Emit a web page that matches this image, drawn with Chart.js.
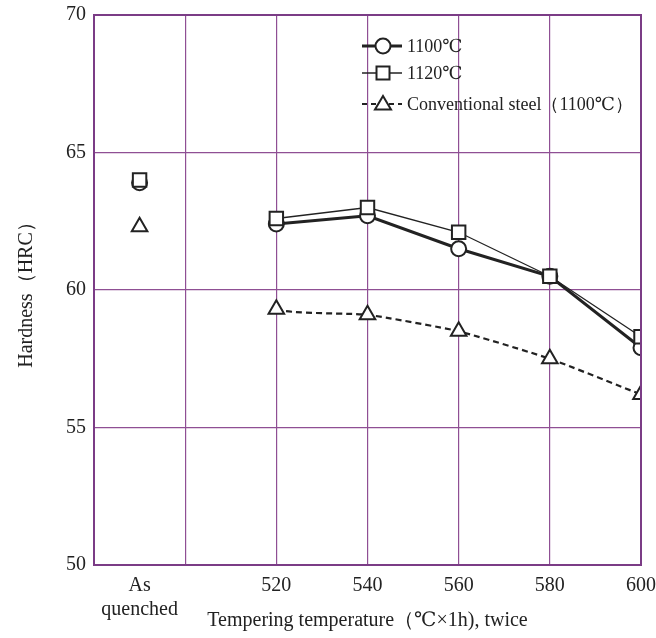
<!DOCTYPE html>
<html>
<head>
<meta charset="utf-8">
<script src="https://cdn.jsdelivr.net/npm/chart.js@4/dist/chart.umd.min.js"></script>
<style>
  html, body { margin: 0; padding: 0; background: #fff; }
  #wrap { width: 656px; height: 638px; }
</style>
</head>
<body>
<div id="wrap"><canvas id="hardnessChart" width="656" height="638"></canvas></div>
<script>
// x = 490 stands for "As quenched"
const temps = [490, 520, 540, 560, 580, 600];
const hrc1100 = [63.9, 62.4, 62.7, 61.5, 60.5, 57.9];
const hrc1120 = [64.0, 62.6, 63.0, 62.1, 60.5, 58.3];
const hrcConv = [62.3, 59.3, 59.1, 58.5, 57.5, 56.2];
const xTicks = [490, 500, 520, 540, 560, 580, 600];
const legendLabels = ['1100℃', '1120℃', 'Conventional steel（1100℃）'];

const serif = '"Liberation Serif", "DejaVu Serif", serif';
const gridColor = '#8f4f94';
const ink = '#222';

const pts = (vals) => temps.map((t, i) => ({ x: t, y: vals[i] }));
// no line between "As quenched" and 520
const skipFirst = { borderColor: (c) => c.p0DataIndex === 0 ? 'rgba(0,0,0,0)' : undefined };

const frame = {
  id: 'frame',
  afterDraw(chart) {
    const { ctx, chartArea: a } = chart;
    ctx.save();
    ctx.strokeStyle = '#7b3c86';
    ctx.lineWidth = 2;
    ctx.strokeRect(a.left, a.top, a.right - a.left, a.bottom - a.top);
    ctx.restore();
  }
};

// legend drawn inside plot, upper right
const boxLegend = {
  id: 'boxLegend',
  afterDraw(chart) {
    const { ctx, chartArea: a } = chart;
    const x0 = a.left + 268, x1 = a.left + 308, mx = a.left + 289;
    const rows = [a.top + 31, a.top + 58, a.top + 89];
    ctx.save();
    ctx.fillStyle = ink;
    ctx.strokeStyle = ink;
    ctx.font = '18px ' + serif;
    ctx.textBaseline = 'middle';
    rows.forEach((y, i) => {
      ctx.lineWidth = i === 0 ? 3 : (i === 1 ? 1.5 : 2);
      ctx.setLineDash(i === 2 ? [5, 4] : []);
      ctx.beginPath();
      ctx.moveTo(x0, y);
      ctx.lineTo(x1, y);
      ctx.stroke();
      ctx.setLineDash([]);
      ctx.lineWidth = 2;
      ctx.fillStyle = '#fff';
      ctx.beginPath();
      if (i === 0) {
        ctx.arc(mx, y, 7.5, 0, Math.PI * 2);
      } else if (i === 1) {
        ctx.rect(mx - 6.5, y - 6.5, 13, 13);
      } else {
        ctx.moveTo(mx, y - 8);
        ctx.lineTo(mx + 8, y + 5.5);
        ctx.lineTo(mx - 8, y + 5.5);
        ctx.closePath();
      }
      ctx.fill();
      ctx.stroke();
      ctx.fillStyle = ink;
      ctx.fillText(legendLabels[i], x1 + 5, y + 1);
    });
    ctx.restore();
  }
};

new Chart(document.getElementById('hardnessChart'), {
  type: 'scatter',
  data: {
    datasets: [
      {
        label: legendLabels[1],
        data: pts(hrc1120),
        showLine: true,
        borderColor: ink,
        borderWidth: 1.3,
        pointStyle: 'rect',
        pointRadius: 9.5,
        pointBackgroundColor: '#fff',
        pointBorderColor: ink,
        pointBorderWidth: 2,
        segment: skipFirst,
        order: 0
      },
      {
        label: legendLabels[0],
        data: pts(hrc1100),
        showLine: true,
        borderColor: ink,
        borderWidth: 3,
        pointStyle: 'circle',
        pointRadius: 7.5,
        pointBackgroundColor: '#fff',
        pointBorderColor: ink,
        pointBorderWidth: 2,
        segment: skipFirst,
        order: 1
      },
      {
        label: legendLabels[2],
        data: pts(hrcConv),
        showLine: true,
        borderColor: ink,
        borderWidth: 2.2,
        borderDash: [6, 4],
        tension: 0.15,
        pointStyle: 'triangle',
        pointRadius: 9,
        pointBackgroundColor: '#fff',
        pointBorderColor: ink,
        pointBorderWidth: 2,
        segment: skipFirst,
        order: 2
      }
    ]
  },
  options: {
    responsive: false,
    animation: false,
    layout: { padding: { top: 15, right: 15, bottom: 0, left: 0 } },
    scales: {
      x: {
        type: 'linear',
        min: 480,
        max: 600,
        afterBuildTicks: (s) => { s.ticks = xTicks.map(v => ({ value: v })); },
        afterFit: (s) => { s.height = 73; s.paddingLeft = 0; s.paddingRight = 0; },
        border: { display: false },
        grid: {
          drawTicks: false,
          lineWidth: 1.2,
          color: (c) => c.tick && c.tick.value === 490 ? 'rgba(0,0,0,0)' : gridColor
        },
        ticks: {
          padding: 9,
          color: ink,
          font: { family: serif, size: 20 },
          maxRotation: 0,
          autoSkip: false,
          callback: (v) => v === 490 ? ['As', 'quenched'] : (v === 500 ? '' : v)
        },
        title: {
          display: true,
          text: 'Tempering temperature（℃×1h), twice',
          color: ink,
          font: { family: serif, size: 20 },
          padding: { top: 0, bottom: 5 }
        }
      },
      y: {
        min: 50,
        max: 70,
        afterFit: (s) => { s.width = 94; s.paddingTop = 0; s.paddingBottom = 0; },
        border: { display: false },
        grid: { drawTicks: false, lineWidth: 1.2, color: gridColor },
        ticks: {
          stepSize: 5,
          padding: 8,
          color: ink,
          font: { family: serif, size: 20 }
        },
        title: {
          display: true,
          text: 'Hardness（HRC）',
          color: ink,
          font: { family: serif, size: 20 },
          padding: { top: 15, bottom: 0 }
        }
      }
    },
    plugins: {
      legend: { display: false },
      tooltip: { enabled: false }
    }
  },
  plugins: [frame, boxLegend]
});
</script>
</body>
</html>
